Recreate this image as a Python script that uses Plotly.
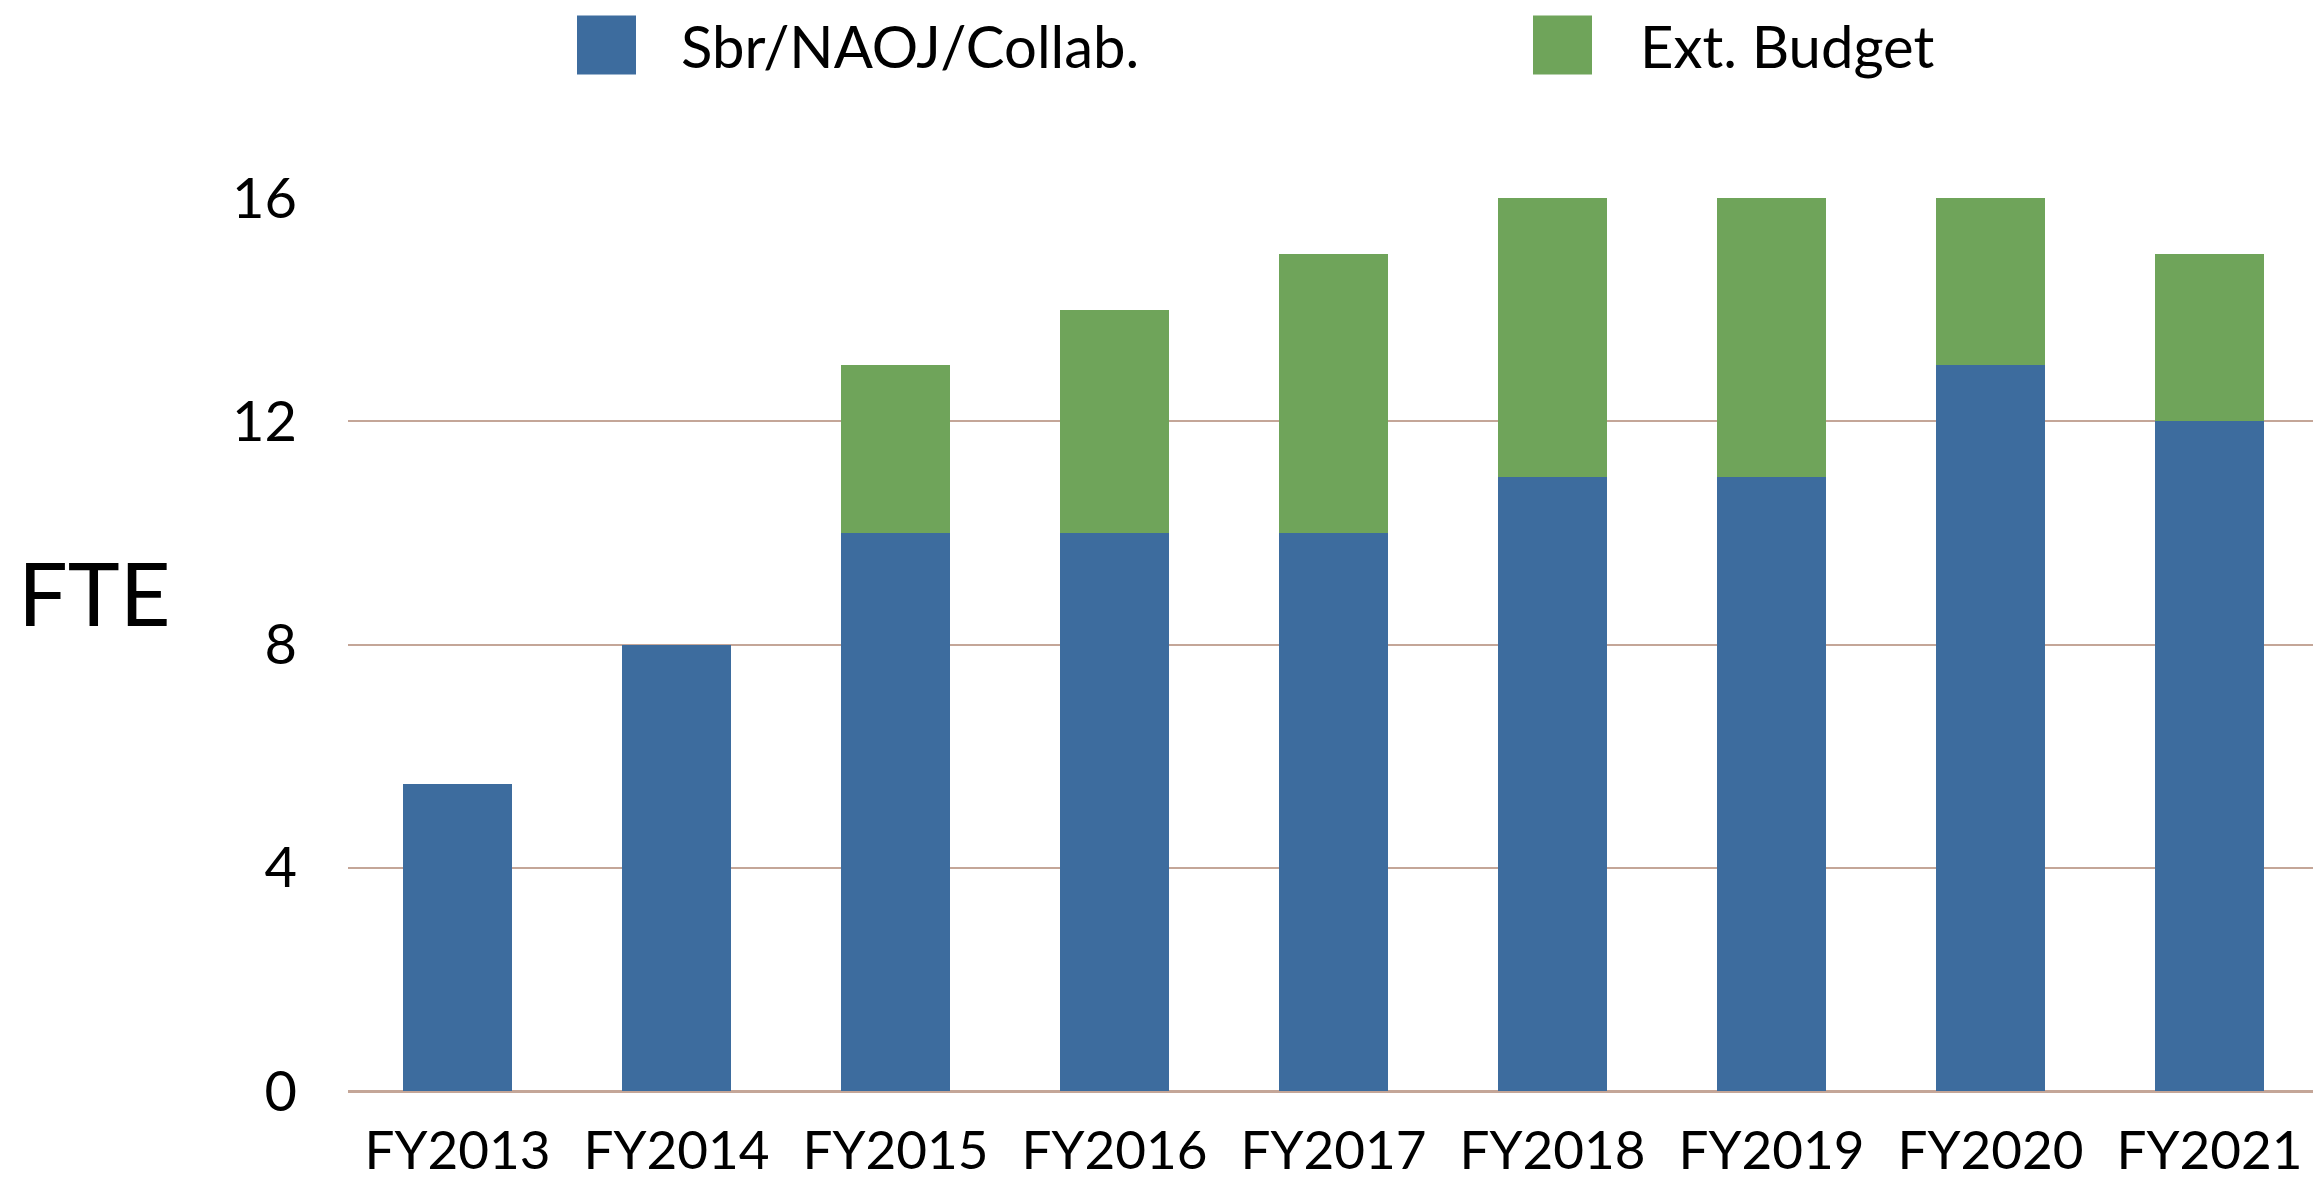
import plotly.graph_objects as go

categories = ["FY2013", "FY2014", "FY2015", "FY2016", "FY2017", "FY2018", "FY2019", "FY2020", "FY2021"]
sbr_naoj_collab = [5.5, 8, 10, 10, 10, 11, 11, 13, 12]
ext_budget = [0, 0, 3, 4, 5, 5, 5, 3, 3]
y_ticks = [0, 4, 8, 12, 16]
series_names = ["Sbr/NAOJ/Collab.", "Ext. Budget"]
series_colors = ["#3D6C9E", "#6FA45A"]

OFF = 8  # page body margin
W, H = 2321 - OFF, 1182 - OFF
L, R, T = 348 - OFF, 2, 198 - OFF
B = H - (1094 - OFF)
PW, PH = W - L - R, H - T - B
FONT = "Lato, 'Open Sans', sans-serif"


def px_x(px):
    return (px - OFF - L) / PW


def px_y(py):
    return (H - B - (py - OFF)) / PH


fig = go.Figure()
fig.add_trace(go.Bar(x=categories, y=sbr_naoj_collab, name=series_names[0],
                     marker=dict(color=series_colors[0], line=dict(width=0))))
fig.add_trace(go.Bar(x=categories, y=ext_budget, name=series_names[1],
                     marker=dict(color=series_colors[1], line=dict(width=0))))

# custom legend (large square swatches)
legend_items = [(577, 679), (1533, 1638)]
for (sx, tx), name, col in zip(legend_items, series_names, series_colors):
    fig.add_shape(type="rect", xref="paper", yref="paper",
                  x0=px_x(sx), x1=px_x(sx + 59), y0=px_y(74), y1=px_y(15),
                  fillcolor=col, line=dict(width=0))
    fig.add_annotation(xref="paper", yref="paper", x=px_x(tx), y=px_y(45),
                       xanchor="left", yanchor="middle", text=name, showarrow=False,
                       font=dict(family=FONT, size=58, color="black"))

fig.add_annotation(xref="paper", yref="paper", x=px_x(94), y=px_y(593),
                   xanchor="center", yanchor="middle", text="FTE", showarrow=False,
                   font=dict(family=FONT, size=88, color="black"))

fig.update_layout(
    width=W, height=H,
    margin=dict(l=L, r=R, t=T, b=B, pad=0),
    barmode="stack", bargap=0.5,
    plot_bgcolor="white", paper_bgcolor="white",
    showlegend=False,
    font=dict(family=FONT, size=52, color="black"),
)
fig.update_xaxes(showgrid=False, showline=False, ticks="", ticklabelstandoff=24,
                 tickfont=dict(family=FONT, size=53, color="black"))
fig.update_yaxes(range=[0, 16], tickvals=y_ticks, showgrid=True,
                 gridcolor="#C4A698", gridwidth=2,
                 zeroline=True, zerolinecolor="#C4A698", zerolinewidth=3,
                 showline=False, ticks="", ticklabelstandoff=50,
                 tickfont=dict(family=FONT, size=56, color="black"))

fig.write_html("out.html")
